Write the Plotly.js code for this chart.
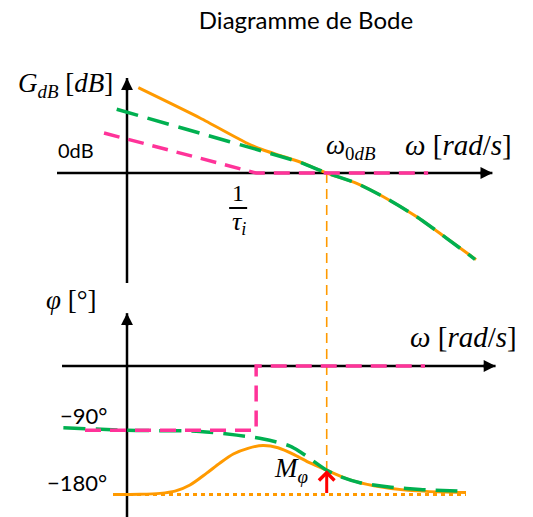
<!DOCTYPE html>
<html>
<head>
<meta charset="utf-8">
<script src="https://cdn.plot.ly/plotly-3.0.1.min.js"></script>
<style>
  html, body { margin: 0; padding: 0; background: #fff; }
  #bode { width: 533px; height: 517px; }
</style>
</head>
<body>
<div id="bode"></div>
<script>
// Frequency axis in arbitrary log-ω units, origin on the vertical axes
const wTi = 4.1;      // 1/τi, PI corner
const w0dB = 6.34;    // crossover frequency

// Gain plot (dB)
const gainPinkX   = [-0.73, wTi, 9.56];
const gainPinkY   = [20, 0, 0];
const gainGreenX  = [-0.327, 2.317, 4.286, 4.857, 5.492, w0dB, 7.292, 8.137, 9.197, 10.149, 11.048];
const gainGreenY  = [31.85, 19.9, 11, 8.35, 5.35, 0, -5.15, -11.85, -21.85, -32.65, -43.15];
const gainOrangeX = [0.359, 2.317, 3.8, 4.286, 4.857, 5.492, w0dB, 7.292, 8.137, 9.197, 10.149, 11.08];
const gainOrangeY = [42.65, 27.5, 15, 11.75, 8.75, 5.5, 0, -5.15, -11.85, -21.85, -32.65, -43.3];

// Phase plot (degrees)
const phasePinkX   = [-1.333, wTi, wTi, 9.46];
const phasePinkY   = [-90, -90, 0, 0];
const phaseGreenX  = [-2.02, 0, 2.317, 3.483, 4.327, 5.175, 5.492, w0dB, 6.762, 7.397, 8.381, 9.302, 10.762];
const phaseGreenY  = [-86.4, -90, -91.6, -96.8, -102.2, -112.1, -120, -146, -154.7, -163.4, -169.7, -172.9, -175.7];
const phaseOrangeX = [-0.444, 0.413, 1.048, 1.524, 2.0, 2.53, 2.952, 3.375, 3.841, 4.317, 4.794, 5.333, 5.81, w0dB, 7.079, 7.841, 8.921, 10.762];
const phaseOrangeY = [-180, -179.7, -178.4, -175.3, -166.6, -150, -135.8, -123.2, -115.3, -111.3, -114.5, -124.7, -135.8, -146, -159.5, -167.8, -174.2, -177.3];
const phaseRefX    = [-0.444, 10.762];
const phaseRefY    = [-180, -180];
const marginTop    = -146;  // phase of the open loop at ω0dB
const phaseTicks   = [-90, -180];
const phaseTickText = ['−90°', '−180°'];

// Axis extents (start, arrow tip)
const gainAxisX  = [-2.222, 11.6];  const gainAxisY  = [-55, 47.5];
const phaseAxisX = [-2.063, 11.7];  const phaseAxisY = [-215, 74];

const xRange  = [-127 / 31.5, 406 / 31.5];
const yRange  = [-172, 86.5];
const y2Range = [-(517 - 366) / 0.714, 366 / 0.714];

const ORANGE = '#FF9A00', GREEN = '#00B050', PINK = '#FF3399', RED = '#FF0000';
const MATH = 'Liberation Serif';
const SANS = 'Lato';

function axisLine(xs, ys, yaxis) {
  return { x: xs, y: ys, yaxis: yaxis, mode: 'lines', line: { color: '#000', width: 2.5 } };
}
// arrowhead at the tip of an axis; (dx, dy) is the pixel direction back along the axis
function axisHead(x, y, yref, dx, dy) {
  return { text: '', x: x, y: y, xref: 'x', yref: yref, ax: dx, ay: dy,
           showarrow: true, arrowhead: 2, arrowsize: 0.95, arrowwidth: 2.5, arrowcolor: '#000' };
}

const traces = [
  axisLine([gainAxisX[0], gainAxisX[1]], [0, 0], 'y'),
  axisLine([0, 0], gainAxisY, 'y'),
  axisLine([phaseAxisX[0], phaseAxisX[1]], [0, 0], 'y2'),
  axisLine([0, 0], phaseAxisY, 'y2'),

  // gain curves
  { x: gainOrangeX, y: gainOrangeY, yaxis: 'y', mode: 'lines',
    line: { color: ORANGE, width: 3, shape: 'spline', smoothing: 0.6 } },
  { x: gainGreenX, y: gainGreenY, yaxis: 'y', mode: 'lines',
    line: { color: GREEN, width: 3.5, dash: '22px,10px', shape: 'spline', smoothing: 0.6 } },
  { x: gainPinkX, y: gainPinkY, yaxis: 'y', mode: 'lines',
    line: { color: PINK, width: 3.5, dash: '16px,9px' } },

  // phase curves
  { x: phaseRefX, y: phaseRefY, yaxis: 'y2', mode: 'lines',
    line: { color: ORANGE, width: 3, dash: '4px,4px' } },
  { x: phaseOrangeX, y: phaseOrangeY, yaxis: 'y2', mode: 'lines',
    line: { color: ORANGE, width: 3, shape: 'spline', smoothing: 0.8 } },
  { x: phaseGreenX, y: phaseGreenY, yaxis: 'y2', mode: 'lines',
    line: { color: GREEN, width: 3.5, dash: '22px,10px', shape: 'spline', smoothing: 0.8 } },
  { x: phasePinkX, y: phasePinkY, yaxis: 'y2', mode: 'lines',
    line: { color: PINK, width: 3.5, dash: '16px,9px' } }
];
traces.forEach(t => { t.showlegend = false; t.hoverinfo = 'skip'; });

// paper fraction of a value on an axis spanning the whole height
const toPaper = (v, r) => (v - r[0]) / (r[1] - r[0]);

const mathFont = (s) => ({ family: MATH, size: s, color: '#000' });
const sansFont = (s) => ({ family: SANS, size: s, color: '#000' });

const annotations = [
  axisHead(gainAxisX[1], 0, 'y', -14, 0),
  axisHead(0, gainAxisY[1], 'y', 0, 14),
  axisHead(phaseAxisX[1], 0, 'y2', -14, 0),
  axisHead(0, phaseAxisY[1], 'y2', 0, 14),

  { text: '<i>G</i><sub><i>dB</i></sub> [<i>dB</i>]', x: 0, y: 44, xref: 'x', yref: 'y',
    xanchor: 'right', yanchor: 'middle', xshift: -12, showarrow: false, font: mathFont(27) },
  { text: '0dB', x: 0, y: 0, xref: 'x', yref: 'y', xanchor: 'right', yanchor: 'middle',
    xshift: -31, yshift: 23, showarrow: false, font: sansFont(20) },
  { text: '<i>ω</i><sub>0<i>dB</i></sub>', x: w0dB, y: 0, xref: 'x', yref: 'y',
    xanchor: 'left', yanchor: 'middle', xshift: -3, yshift: 26, showarrow: false, font: mathFont(27) },
  { text: '<i>ω</i> [<i>rad</i>/<i>s</i>]', x: gainAxisX[1], y: 0, xref: 'x', yref: 'y',
    xanchor: 'right', yanchor: 'middle', xshift: 22, yshift: 28, showarrow: false, font: mathFont(29) },
  { text: '1', x: wTi, y: 0, xref: 'x', yref: 'y', xanchor: 'center', yanchor: 'middle',
    xshift: -18, yshift: -20, showarrow: false, font: mathFont(24) },
  { text: '<i>τ</i><sub><i>i</i></sub>', x: wTi, y: 0, xref: 'x', yref: 'y', xanchor: 'center', yanchor: 'middle',
    xshift: -17, yshift: -50, showarrow: false, font: mathFont(26) },

  { text: '<i>φ</i> [°]', x: 0, y: phaseAxisY[1], xref: 'x', yref: 'y2', xanchor: 'right', yanchor: 'middle',
    xshift: -29, yshift: 13, showarrow: false, font: mathFont(27) },
  { text: '<i>ω</i> [<i>rad</i>/<i>s</i>]', x: phaseAxisX[1], y: 0, xref: 'x', yref: 'y2',
    xanchor: 'right', yanchor: 'middle', xshift: 23, yshift: 29, showarrow: false, font: mathFont(29) },
  { text: phaseTickText[0], x: 0, y: phaseTicks[0], xref: 'x', yref: 'y2', xanchor: 'right', yanchor: 'middle',
    xshift: -18, yshift: 15, showarrow: false, font: sansFont(22) },
  { text: phaseTickText[1], x: 0, y: phaseTicks[1], xref: 'x', yref: 'y2', xanchor: 'right', yanchor: 'middle',
    xshift: -18, yshift: 12, showarrow: false, font: sansFont(22) },
  { text: '<i>M</i><sub><i>φ</i></sub>', x: w0dB, y: (marginTop - 180) / 2, xref: 'x', yref: 'y2',
    xanchor: 'right', yanchor: 'middle', xshift: -17, yshift: 12, showarrow: false, font: mathFont(27) },

  // phase margin arrow
  { text: '', x: w0dB, y: marginTop, xref: 'x', yref: 'y2', ax: w0dB, ay: -180, axref: 'x', ayref: 'y2',
    showarrow: true, arrowhead: 4, arrowsize: 1, arrowwidth: 3, arrowcolor: RED }
];

const shapes = [
  // crossover frequency marker, from 0 dB down to the phase curve
  { type: 'line', layer: 'below', xref: 'x', yref: 'paper', x0: w0dB, x1: w0dB,
    y0: toPaper(0, yRange), y1: toPaper(marginTop, y2Range),
    line: { color: ORANGE, width: 1.6, dash: '10px,6px' } },
  // fraction bar of 1/τi
  { type: 'line', xref: 'x', yref: 'y', xsizemode: 'pixel', xanchor: wTi, x0: -27, x1: -9,
    ysizemode: 'pixel', yanchor: 0, y0: -35, y1: -35, line: { color: '#000', width: 2 } }
];

const layout = {
  width: 533, height: 517,
  margin: { l: 0, r: 0, t: 0, b: 0 },
  paper_bgcolor: '#fff', plot_bgcolor: 'rgba(0,0,0,0)',
  showlegend: false,
  title: { text: 'Diagramme de Bode', font: sansFont(24), x: 306 / 533, xref: 'container',
           xanchor: 'center', y: 1 - 21 / 517, yref: 'container', yanchor: 'middle' },
  xaxis: { range: xRange, visible: false, fixedrange: true },
  yaxis: { range: yRange, visible: false, fixedrange: true, domain: [0, 1] },
  yaxis2: { range: y2Range, visible: false, fixedrange: true, overlaying: 'y' },
  annotations: annotations,
  shapes: shapes
};

Plotly.newPlot('bode', traces, layout, { staticPlot: true, displayModeBar: false });
</script>
</body>
</html>
